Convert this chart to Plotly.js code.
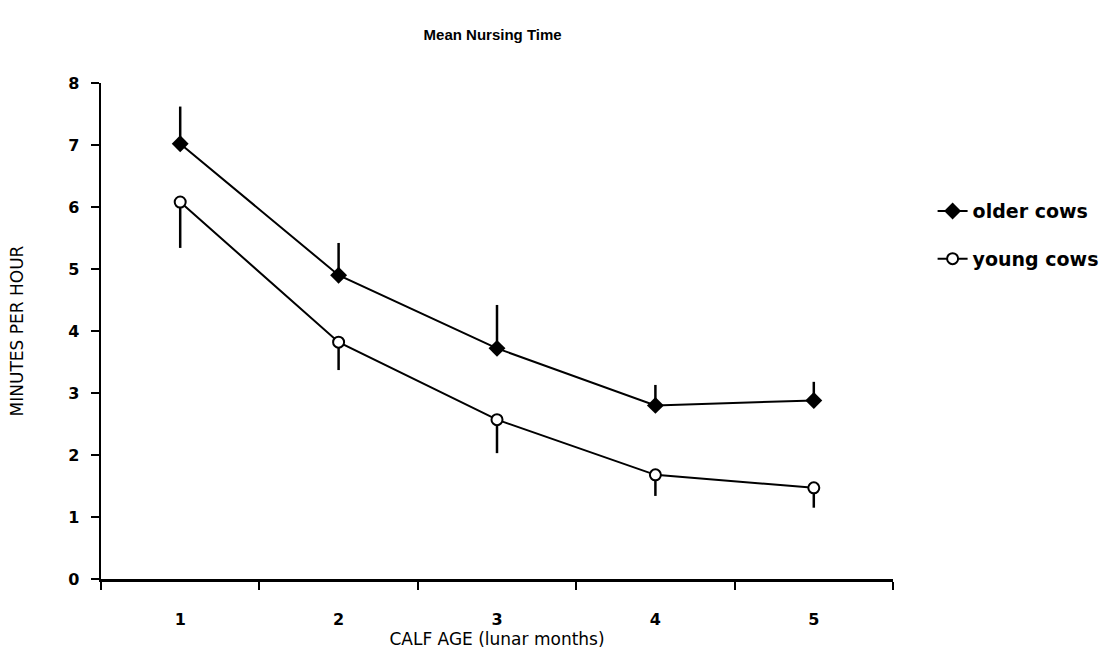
<!DOCTYPE html>
<html>
<head>
<meta charset="utf-8">
<script src="https://cdn.plot.ly/plotly-3.0.1.min.js"></script>
<style>html,body{margin:0;padding:0;background:#fff;}#chart{width:1117px;height:665px;}</style>
</head>
<body>
<div id="chart"></div>
<script>
const calfAge = [1, 2, 3, 4, 5];
const olderMean = [7.02, 4.9, 3.72, 2.8, 2.88];
const olderErrUp = [0.6, 0.52, 0.7, 0.33, 0.3];
const youngMean = [6.08, 3.82, 2.57, 1.68, 1.47];
const youngErrDown = [0.74, 0.45, 0.54, 0.34, 0.32];
const zeros = [0, 0, 0, 0, 0];
const yTicks = [0, 1, 2, 3, 4, 5, 6, 7, 8];

const font = "DejaVu Sans, Liberation Sans, sans-serif";

const traces = [
  {
    x: calfAge, y: olderMean, name: 'older cows', legendgroup: 'a', type: 'scatter', mode: 'lines+markers',
    line: {color: '#000', width: 2},
    marker: {symbol: 'diamond', size: 13, color: '#000'},
    error_y: {type: 'data', symmetric: false, array: olderErrUp, arrayminus: zeros, color: '#000', thickness: 2.5, width: 0}
  },
  {
    x: calfAge, y: youngMean, name: 'young cows', legendgroup: 'b', type: 'scatter', mode: 'lines+markers',
    line: {color: '#000', width: 2},
    marker: {symbol: 'circle', size: 11, color: '#fff', line: {color: '#000', width: 2}},
    error_y: {type: 'data', symmetric: false, array: zeros, arrayminus: youngErrDown, color: '#000', thickness: 2.5, width: 0}
  }
];

const layout = {
  width: 1117, height: 665,
  paper_bgcolor: '#fff', plot_bgcolor: '#fff',
  margin: {l: 101, r: 224, t: 83, b: 86},
  title: {text: '<b>Mean Nursing Time</b>', x: 0.441, xanchor: 'center', y: 0.947, yanchor: 'middle',
          font: {family: 'Liberation Sans, Arial, sans-serif', size: 15, color: '#000'}},
  showlegend: true,
  legend: {x: 1.05, y: 0.78, xanchor: 'left', yanchor: 'top', bgcolor: 'rgba(0,0,0,0)', traceorder: 'grouped',
           font: {family: font, size: 19, color: '#000', weight: 'bold'}, tracegroupgap: 20, itemwidth: 30},
  xaxis: {
    range: [0.5, 5.5], tickvals: calfAge, ticktext: calfAge.map(String), ticks: '',
    showgrid: false, zeroline: false, showline: true, linecolor: '#000', linewidth: 2.5,
    tickfont: {family: font, size: 16, color: '#000', weight: 'bold'}, ticklabelstandoff: 24,
    minor: {ticks: 'outside', tick0: 0.5, dtick: 1, ticklen: 8, tickwidth: 2, tickcolor: '#000', showgrid: false},
    title: {text: 'CALF AGE (lunar months)', font: {family: font, size: 17, color: '#000'}, standoff: 4}
  },
  yaxis: {
    range: [0, 8], tickvals: yTicks, ticks: 'outside', ticklen: 8, tickwidth: 2, tickcolor: '#000',
    showgrid: false, zeroline: false, showline: true, linecolor: '#000', linewidth: 2.5,
    tickfont: {family: font, size: 16, color: '#000', weight: 'bold'}, ticklabelstandoff: 8,
    title: {text: 'MINUTES PER HOUR', font: {family: font, size: 17, color: '#000'}, standoff: 40}
  }
};

Plotly.newPlot('chart', traces, layout, {displayModeBar: false, staticPlot: true});
</script>
</body>
</html>
